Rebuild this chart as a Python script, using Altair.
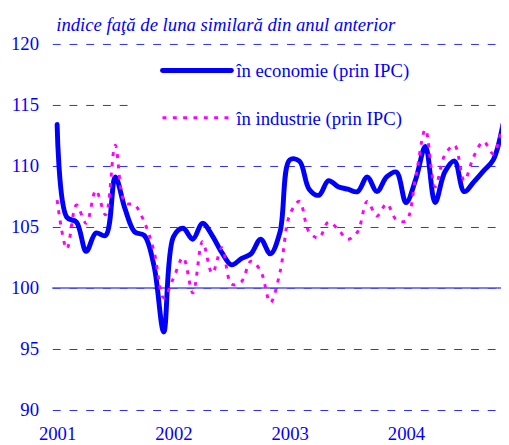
import altair as alt
import pandas as pd

# Monthly index values, Jan 2001 .. Nov 2004 (month index 0..46)
months = list(range(47))
economie = [113.4, 105.8, 105.4, 103.0, 104.5, 104.3, 109.1, 106.5, 104.6, 104.3, 101.8, 96.4,
            104.2, 104.9, 104.0, 105.3, 104.3, 102.9, 101.9, 102.4, 102.8, 104.0, 102.8, 104.6,
            110.5, 110.4, 108.1, 107.6, 108.8, 108.3, 108.1, 107.9, 109.1, 107.9, 109.1, 109.5,
            107.0, 108.9, 111.6, 107.0, 109.5, 110.4, 107.9, 108.7, 109.6, 110.5, 113.4]
industrie = [107.2, 103.2, 106.8, 105.3, 108.0, 106.0, 111.7, 107.0, 106.8, 105.4, 103.0, 99.2,
             100.8, 102.5, 99.6, 103.8, 101.2, 103.3, 100.3, 100.5, 102.2, 101.4, 98.8, 101.3,
             106.0, 107.1, 104.6, 104.1, 105.4, 104.8, 104.0, 104.6, 107.1, 105.9, 106.9, 105.6,
             105.5, 109.1, 113.0, 108.3, 110.9, 111.7, 108.8, 110.8, 112.0, 111.0, 113.6]
year_labels = ["2001", "2002", "2003", "2004"]
year_positions = [0, 12, 24, 36]
y_ticks = [90, 95, 100, 105, 110, 115, 120]
series_names = ["în economie (prin IPC)", "în industrie (prin IPC)"]
title_text = "indice faţă de luna similară din anul anterior"

BLUE = "#0000ff"
MAGENTA = "#ff00ff"
FONT = "Times New Roman, Liberation Serif, serif"
FS = 19

df_e = pd.DataFrame({"month": months, "value": economie})
df_i = pd.DataFrame({"month": months, "value": industrie})

label_expr = "[" + ",".join("'%s'" % s for s in year_labels) + "][datum.value/12]"

x_enc = alt.X("month:Q",
              scale=alt.Scale(domain=[-0.5, 45.8], nice=False, zero=False),
              axis=alt.Axis(values=year_positions, labelExpr=label_expr, grid=False, ticks=False,
                            domain=False, labelFont=FONT, labelFontSize=FS, labelColor=BLUE,
                            labelPadding=15, title=None, labelBaseline="top"))
y_enc = alt.Y("value:Q",
              scale=alt.Scale(domain=[90, 120], nice=False, zero=False),
              axis=alt.Axis(values=y_ticks, grid=True, gridDash=[8, 9], gridColor="#2a2aff",
                            gridWidth=1, ticks=False, domain=False, labelFont=FONT,
                            labelFontSize=FS, labelColor=BLUE, labelPadding=14, title=None,
                            labelBaseline="middle"))

one = pd.DataFrame({"a": [0]})

legend_bg = alt.Chart(one).mark_rect(color="white").encode(
    x=alt.value(85), x2=alt.value(384), y=alt.value(8), y2=alt.value(88))

rule100 = alt.Chart(pd.DataFrame({"value": [100]})).mark_rule(
    color="#5252ff", strokeWidth=1.6).encode(y=y_enc)

line_e = alt.Chart(df_e).mark_line(
    color=BLUE, strokeWidth=5, interpolate="catmull-rom", clip=True,
    strokeCap="round", strokeJoin="round").encode(x=x_enc, y=y_enc)

line_i = alt.Chart(df_i).mark_line(
    color=MAGENTA, strokeWidth=3, strokeDash=[4, 6.5], interpolate="catmull-rom",
    clip=True).encode(x=x_enc, y=y_enc)

leg_e = alt.Chart(one).mark_rule(color=BLUE, strokeWidth=5, strokeCap="round").encode(
    x=alt.value(112), x2=alt.value(182), y=alt.value(27))
leg_i = alt.Chart(one).mark_rule(color=MAGENTA, strokeWidth=3, strokeDash=[4, 6.5]).encode(
    x=alt.value(112), x2=alt.value(184), y=alt.value(75))
leg_t1 = alt.Chart(one).mark_text(text=series_names[0], font=FONT, fontSize=FS, color=BLUE,
                                  align="left", baseline="alphabetic").encode(
    x=alt.value(187), y=alt.value(34))
leg_t2 = alt.Chart(one).mark_text(text=series_names[1], font=FONT, fontSize=FS, color=BLUE,
                                  align="left", baseline="alphabetic").encode(
    x=alt.value(187), y=alt.value(82))
title = alt.Chart(one).mark_text(text=title_text, font=FONT, fontSize=FS, fontStyle="italic",
                                 color=BLUE, align="left", baseline="alphabetic").encode(
    x=alt.value(4), y=alt.value(-13))

chart = alt.layer(legend_bg, rule100, line_e, line_i, leg_e, leg_i, leg_t1, leg_t2, title).properties(
    width=456, height=372,
    padding={"left": 45, "top": 33, "right": 0, "bottom": 32},
    autosize=alt.AutoSizeParams(type="none"),
    background="white",
).configure_view(strokeWidth=0)

chart.save("out.html", embed_options={"renderer": "svg", "actions": False})
